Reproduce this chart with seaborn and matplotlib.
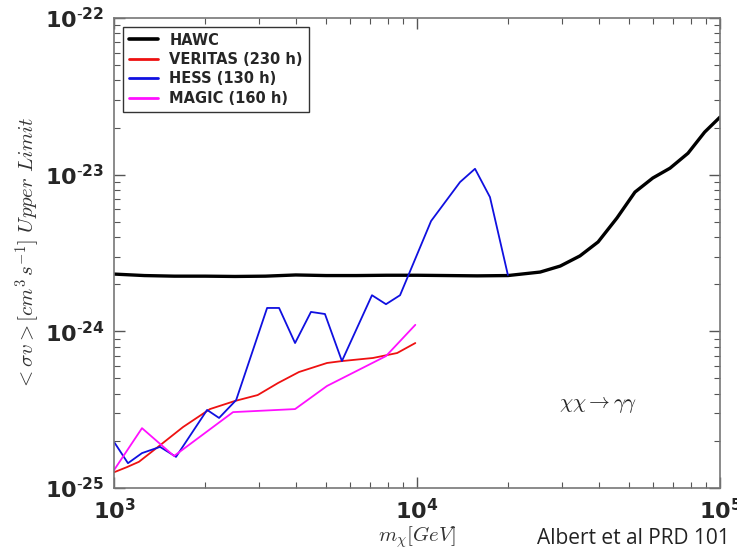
import numpy as np
import pandas as pd
import matplotlib
matplotlib.use("Agg")
import matplotlib.pyplot as plt
import seaborn as sns
from matplotlib.ticker import LogLocator, FuncFormatter, NullFormatter

# ---- data ----
hawc_m = [1000, 1260, 1580, 2000, 2510, 3160, 3980, 5010, 6310, 7940, 10000,
          12600, 15800, 19950, 25500, 29700, 34500, 39600, 45700, 52400,
          60000, 68400, 78400, 89000, 100000]
hawc_v = [2.32e-24, 2.27e-24, 2.25e-24, 2.25e-24, 2.24e-24, 2.25e-24, 2.29e-24,
          2.27e-24, 2.27e-24, 2.28e-24, 2.28e-24, 2.27e-24, 2.26e-24, 2.27e-24,
          2.39e-24, 2.61e-24, 3.03e-24, 3.72e-24, 5.29e-24, 7.74e-24,
          9.52e-24, 1.10e-23, 1.37e-23, 1.87e-23, 2.33e-23]

veritas_m = [1000, 1104, 1209, 1397, 1690, 2073, 2503, 2980, 3479, 4078,
             5047, 5652, 7157, 8599, 9873]
veritas_v = [1.26e-25, 1.36e-25, 1.47e-25, 1.83e-25, 2.45e-25, 3.19e-25,
             3.59e-25, 3.92e-25, 4.68e-25, 5.50e-25, 6.28e-25, 6.46e-25,
             6.76e-25, 7.27e-25, 8.42e-25]

hess_m = [1000, 1112, 1237, 1419, 1602, 2029, 2222, 2530, 3201, 3506, 3959,
          4467, 4968, 5652, 7102, 7900, 8791, 11130, 13870, 15540, 17410, 19950]
hess_v = [1.97e-25, 1.44e-25, 1.67e-25, 1.83e-25, 1.58e-25, 3.15e-25,
          2.80e-25, 3.64e-25, 1.41e-24, 1.41e-24, 8.42e-25, 1.33e-24,
          1.29e-24, 6.46e-25, 1.70e-24, 1.49e-24, 1.70e-24, 5.06e-24,
          8.97e-24, 1.09e-23, 7.19e-24, 2.29e-24]

magic_m = [1000, 1237, 1578, 2471, 3959, 5047, 7900, 9873]
magic_v = [1.30e-25, 2.41e-25, 1.60e-25, 3.05e-25, 3.19e-25, 4.48e-25,
           6.95e-25, 1.10e-24]

series = [
    ("HAWC", hawc_m, hawc_v, "black", 2.4),
    ("VERITAS (230 h)", veritas_m, veritas_v, "#ee1111", 1.3),
    ("HESS (130 h)", hess_m, hess_v, "#1010e0", 1.3),
    ("MAGIC (160 h)", magic_m, magic_v, "#ff10ff", 1.3),
]

sns.set_style("ticks")
plt.rcParams["font.family"] = ["DejaVu Sans"]

fig = plt.figure(figsize=(7.37, 5.50), dpi=100)
ax = fig.add_axes([114 / 737, 1 - 488 / 550, (720 - 114) / 737, (488 - 18) / 550])

for name, m, v, col, lw in series:
    df = pd.DataFrame({"m": m, "v": v})
    sns.lineplot(data=df, x="m", y="v", ax=ax, color=col, linewidth=lw,
                 label=name, sort=False, estimator=None)

ax.set_xscale("log")
ax.set_yscale("log")
ax.set_xlim(1e3, 1e5)
ax.set_ylim(1e-25, 1e-22)

for sp in ax.spines.values():
    sp.set_color("#777777")
    sp.set_linewidth(1.2)
    sp.set_visible(True)

ax.xaxis.set_major_locator(LogLocator(base=10, numticks=10))
ax.yaxis.set_major_locator(LogLocator(base=10, numticks=10))
ax.xaxis.set_minor_locator(LogLocator(base=10, subs=np.arange(2, 10), numticks=20))
ax.yaxis.set_minor_locator(LogLocator(base=10, subs=np.arange(2, 10), numticks=20))
ax.xaxis.set_minor_formatter(NullFormatter())
ax.yaxis.set_minor_formatter(NullFormatter())

def fmt(val, pos):
    e = int(round(np.log10(val)))
    if e < 0:
        return r"$\mathbf{10^{\text{-}%d}}$" % (-e)
    return r"$\mathbf{10^{%d}}$" % e

ax.xaxis.set_major_formatter(FuncFormatter(fmt))
ax.yaxis.set_major_formatter(FuncFormatter(fmt))

ax.tick_params(which="both", direction="in", top=True, right=True,
               color="#555555")
ax.tick_params(which="major", length=8, width=1, labelsize=16, pad=7)
ax.tick_params(which="minor", length=4, width=0.8)
for lab in ax.get_xticklabels() + ax.get_yticklabels():
    lab.set_math_fontfamily("dejavusans")

ax.set_xlabel(r"$m_\chi[GeV]$", fontsize=15, math_fontfamily="cm",
              color="#333333", va="top")
ax.xaxis.set_label_coords(0.5, -0.078)
ax.set_ylabel(r"$<\sigma v>[cm^3\,s^{-1}]\ Upper\ Limit$", fontsize=15,
              math_fontfamily="cm", color="#333333", va="bottom")
ax.yaxis.set_label_coords(-0.118, 0.5)

ax.text(0.735, 0.17, r"$\chi\chi \rightarrow \gamma\gamma$", transform=ax.transAxes,
        fontsize=15, math_fontfamily="cm", color="#222222")

fig.text(537 / 737, 1 - 538 / 550, "Albert et al PRD 101", fontsize=15,
         family=["Open Sans", "DejaVu Sans"], color="#222222", va="center", ha="left")

leg = ax.legend(loc="upper left", frameon=True, fancybox=False, shadow=False,
                prop={"weight": "bold", "size": 10.5}, handlelength=2.0,
                borderaxespad=0.6, labelspacing=0.3)
leg.get_frame().set_edgecolor("black")
leg.get_frame().set_linewidth(1.0)
for line in leg.get_lines():
    line.set_linewidth(2.0 if line.get_color() != "black" else 2.6)

fig.savefig("out.png", dpi=100)
